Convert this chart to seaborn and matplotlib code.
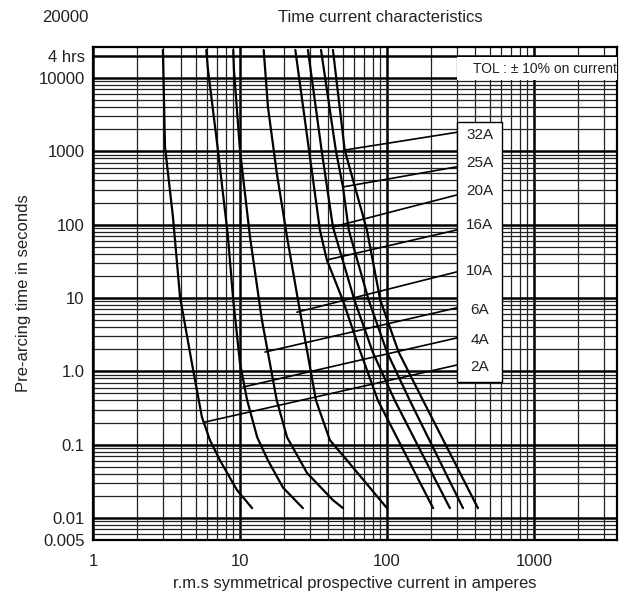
import numpy as np
import pandas as pd
import seaborn as sns
import matplotlib.pyplot as plt
from matplotlib.ticker import LogLocator, NullFormatter, FixedLocator, FixedFormatter
from matplotlib.patches import Rectangle

# fuse ratings and the pre-arcing curves (current in A, time in s)
ratings = ['2A', '4A', '6A', '10A', '16A', '20A', '25A', '32A']

i_2a = [2.99, 3.09, 3.50, 3.91, 4.71, 5.51, 6.25, 7.31, 9.54, 12.1]
t_2a = [24100, 1150, 127, 10.3, 1.29, 0.237, 0.115, 0.061, 0.024, 0.0136]

i_4a = [5.9, 6.06, 7.08, 8.29, 8.96, 10.0, 11.2, 13.1, 15.5, 19.6, 26.8]
t_4a = [24100, 12900, 1040, 68, 10.3, 1.29, 0.40, 0.126, 0.061, 0.026, 0.0136]

i_6a = [9.0, 9.1, 10.0, 11.7, 14.1, 17.8, 20.9, 28.6, 42.9, 50.2]
t_6a = [24100, 12900, 1040, 68, 5.0, 0.40, 0.126, 0.041, 0.0175, 0.0136]

i_10a = [14.5, 15.5, 17.8, 20.9, 24.8, 32.9, 40.9, 53.5, 100]
t_10a = [24100, 4020, 506, 68, 9.4, 0.40, 0.115, 0.061, 0.0136]

i_16a = [23.8, 35.0, 39.0, 50.0, 66.0, 86.8, 206]
t_16a = [24100, 84, 33, 9.4, 1.83, 0.40, 0.0136]

i_20a = [29.0, 36.0, 42.9, 60.0, 80.0, 113, 268]
t_20a = [24100, 1000, 93, 9.4, 1.83, 0.40, 0.0136]

i_25a = [35.6, 45.0, 50.2, 55.0, 75.0, 100, 143, 329]
t_25a = [24100, 1000, 326, 84, 9.4, 1.83, 0.40, 0.0136]

i_32a = [42.9, 51.6, 73.1, 90.0, 120, 176, 416]
t_32a = [24100, 1040, 84, 9.4, 1.83, 0.40, 0.0136]

# where each label's leader line touches its curve
lead_i = [5.78, 10.5, 14.8, 24.4, 39.0, 43.0, 50.0, 51.6]
lead_t = [0.203, 0.61, 1.83, 6.4, 33, 93, 326, 1040]

y_ticks = [0.005, 0.01, 0.1, 1, 10, 100, 1000, 10000, 20000]
y_labels = ['0.005', '0.01', '0.1', '1.0', '10', '100', '1000', '10000', '4 hrs']
x_ticks = [1, 10, 100, 1000]
x_labels = ['1', '10', '100', '1000']

curves_i = [i_2a, i_4a, i_6a, i_10a, i_16a, i_20a, i_25a, i_32a]
curves_t = [t_2a, t_4a, t_6a, t_10a, t_16a, t_20a, t_25a, t_32a]
rows = []
for r, ci, ct in zip(ratings, curves_i, curves_t):
    for a, b in zip(ci, ct):
        rows.append({'rating': r, 'current': a, 'time': b})
df = pd.DataFrame(rows)

sns.set_style('white')
plt.rcParams['font.family'] = ['Liberation Sans', 'DejaVu Sans']

fig = plt.figure(figsize=(6.19, 6.02), dpi=100)
ax = fig.add_axes([0.1502, 0.103, 0.8465, 0.819])
ax.set_xscale('log')
ax.set_yscale('log')
ax.set_xlim(1, 3670)
ax.set_ylim(0.005, 26500)

# grid first so the curves sit on top
ax.xaxis.set_minor_locator(LogLocator(base=10, subs=np.arange(2, 10)))
ax.yaxis.set_minor_locator(LogLocator(base=10, subs=np.arange(2, 10)))
ax.xaxis.set_minor_formatter(NullFormatter())
ax.yaxis.set_minor_formatter(NullFormatter())
ax.grid(which='major', color='black', lw=1.8)
ax.grid(which='minor', color='#222222', lw=0.9)
ax.set_axisbelow(True)

sns.lineplot(data=df, x='current', y='time', units='rating', estimator=None,
             sort=False, color='black', lw=1.6, ax=ax)

ax.yaxis.set_major_locator(FixedLocator(y_ticks))
ax.yaxis.set_major_formatter(FixedFormatter(y_labels))
ax.xaxis.set_major_locator(FixedLocator(x_ticks))
ax.xaxis.set_major_formatter(FixedFormatter(x_labels))
ax.tick_params(axis='both', which='both', length=0, labelsize=12, colors='#222222')
ax.tick_params(axis='x', pad=10)
ax.tick_params(axis='y', pad=6)
for s in ax.spines.values():
    s.set_color('black')
    s.set_linewidth(1.6)

ax.set_xlabel('r.m.s symmetrical prospective current in amperes', fontsize=12,
              color='#222222', labelpad=5)
ax.set_ylabel('Pre-arcing time in seconds', fontsize=12, color='#222222', labelpad=5)
fig.text(380 / 619, 1 - 18 / 602, 'Time current characteristics', ha='center',
         va='center', fontsize=12, color='#222222')
fig.text(88 / 619, 1 - 18 / 602, '20000', ha='right', va='center', fontsize=12,
         color='#222222')

# tolerance note
ax.add_patch(Rectangle((0.695, 0.933), 0.305, 0.047, transform=ax.transAxes,
                       facecolor='white', edgecolor='none', zorder=5))
ax.text(0.725, 0.956, 'TOL : \u00b1 10% on current', transform=ax.transAxes,
        fontsize=10, va='center', ha='left', color='#222222', zorder=6)

# label box with leader lines
ax.add_patch(Rectangle((0.695, 0.320), 0.086, 0.528, transform=ax.transAxes,
                       facecolor='white', edgecolor='black', lw=1.0, zorder=5))
lab_y = [0.351, 0.406, 0.467, 0.546, 0.639, 0.708, 0.765, 0.821]
edge_y = [0.355, 0.410, 0.471, 0.544, 0.629, 0.700, 0.757, 0.827]
for r, li, lt, ly, ey in zip(ratings, lead_i, lead_t, lab_y, edge_y):
    ax.annotate('', xy=(li, lt), xycoords='data', xytext=(0.695, ey),
                textcoords='axes fraction',
                arrowprops=dict(arrowstyle='-', color='black', lw=1.2,
                                shrinkA=0, shrinkB=0), zorder=4)
    ax.text(0.738, ly, r, transform=ax.transAxes, ha='center', va='center',
            fontsize=11, color='#222222', zorder=6)

fig.savefig('out.png', dpi=100)
